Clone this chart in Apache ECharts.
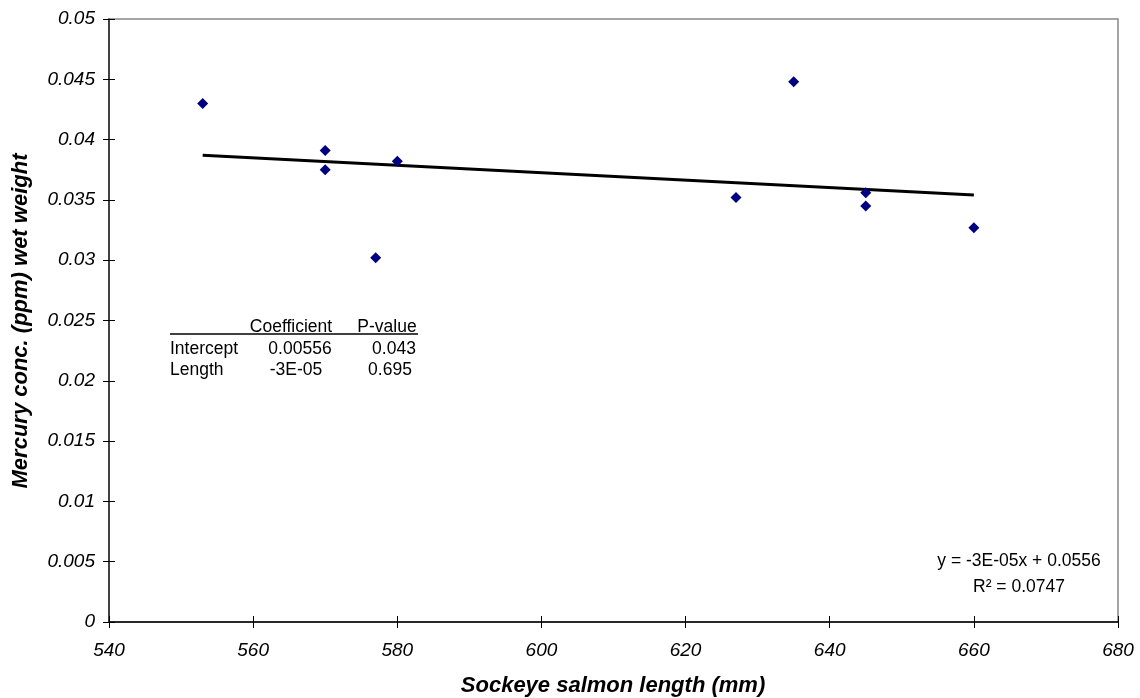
<!DOCTYPE html>
<html>
<head>
<meta charset="utf-8">
<script src="https://cdn.jsdelivr.net/npm/echarts@6/dist/echarts.min.js"></script>
<style>
html,body{margin:0;padding:0;background:#fff;}
#chart{width:1140px;height:698px;}
</style>
</head>
<body>
<div id="chart"></div>
<script>
// Data
var lengthMm = [553, 570, 570, 580, 577, 627, 635, 645, 645, 660];
var mercuryPpm = [0.0430, 0.0391, 0.0375, 0.0382, 0.0302, 0.0352, 0.0448, 0.0356, 0.0345, 0.0327];
var trendX = [553, 660];
var trendY = [0.0387, 0.0354];
var tableHeader = ['Coefficient', 'P-value'];
var tableRows = ['Intercept', 'Length'];
var tableCoef = ['0.00556', '-3E-05'];
var tablePval = ['0.043', '0.695'];
var equationText = 'y = -3E-05x + 0.0556';
var r2Text = 'R\u00B2 = 0.0747';
var xTitle = 'Sockeye salmon length (mm)';
var yTitle = 'Mercury conc. (ppm) wet weight';

var FONT = '"Liberation Sans", Arial, sans-serif';

var scatterData = lengthMm.map(function (x, i) { return [x, mercuryPpm[i]]; });
var trendData = trendX.map(function (x, i) { return [x, trendY[i]]; });

var chart = echarts.init(document.getElementById('chart'), null, {renderer: 'canvas'});

var tickStyle = {color: '#000', width: 1};
var labelStyleX = {show: true, color: '#000', fontStyle: 'italic', fontFamily: FONT, fontSize: 19, margin: 19};
var labelStyleY = {show: true, color: '#000', fontStyle: 'italic', fontFamily: FONT, fontSize: 19, margin: 14};

function txt(x, y, s, align, opts) {
  var st = {text: s, fontFamily: FONT, fontSize: 17.5, fill: '#000', textAlign: align, textVerticalAlign: 'middle'};
  var g = {type: 'text', x: x, y: y, style: st};
  if (opts) { for (var k in opts) { if (k === 'rotation') g.rotation = opts[k]; else st[k] = opts[k]; } }
  return g;
}

var graphics = [
  txt(613, 686, xTitle, 'center', {fontSize: 22, fontWeight: 'bold', fontStyle: 'italic'}),
  txt(21, 321, yTitle, 'center', {fontSize: 22, fontWeight: 'bold', fontStyle: 'italic', rotation: Math.PI / 2}),
  txt(291, 327, tableHeader[0], 'center'),
  txt(387, 327, tableHeader[1], 'center'),
  {type: 'line', shape: {x1: 170, y1: 334, x2: 418, y2: 334}, style: {stroke: '#000', lineWidth: 1.5}},
  txt(170, 349, tableRows[0], 'left'),
  txt(300, 349, tableCoef[0], 'center'),
  txt(394, 349, tablePval[0], 'center'),
  txt(170, 370, tableRows[1], 'left'),
  txt(296, 370, tableCoef[1], 'center'),
  txt(390, 370, tablePval[1], 'center'),
  txt(1019, 561, equationText, 'center'),
  txt(1019, 587, r2Text, 'center')
];

var option = {
  animation: false,
  backgroundColor: '#fff',
  grid: {left: 109, right: 22, top: 19, bottom: 76, show: true, borderColor: '#888', borderWidth: 1.5, backgroundColor: 'transparent'},
  xAxis: [
    {type: 'value', min: 540, max: 680, interval: 20, position: 'bottom',
     axisLine: {show: true, onZero: false, lineStyle: {color: '#000', width: 1.5}},
     axisTick: {show: true, inside: false, length: 6, lineStyle: tickStyle},
     axisLabel: labelStyleX, splitLine: {show: false}},
    {type: 'value', min: 540, max: 680, interval: 20, position: 'bottom',
     axisLine: {show: false, onZero: false},
     axisTick: {show: true, inside: true, length: 6, lineStyle: tickStyle},
     axisLabel: {show: false}, splitLine: {show: false}}
  ],
  yAxis: [
    {type: 'value', min: 0, max: 0.05, interval: 0.005, position: 'left',
     axisLine: {show: true, onZero: false, lineStyle: {color: '#222', width: 1.5}},
     axisTick: {show: true, inside: false, length: 6, lineStyle: tickStyle},
     axisLabel: labelStyleY, splitLine: {show: false}},
    {type: 'value', min: 0, max: 0.05, interval: 0.005, position: 'left',
     axisLine: {show: false, onZero: false},
     axisTick: {show: true, inside: true, length: 6, lineStyle: tickStyle},
     axisLabel: {show: false}, splitLine: {show: false}}
  ],
  series: [
    {type: 'line', xAxisIndex: 0, yAxisIndex: 0, data: trendData, symbol: 'none', silent: true,
     lineStyle: {color: '#000', width: 3}, z: 2},
    {type: 'scatter', xAxisIndex: 0, yAxisIndex: 0, data: scatterData, symbol: 'diamond', symbolSize: [11, 11],
     itemStyle: {color: '#000080', opacity: 1}, z: 3}
  ],
  graphic: graphics
};
chart.setOption(option);
</script>
</body>
</html>
